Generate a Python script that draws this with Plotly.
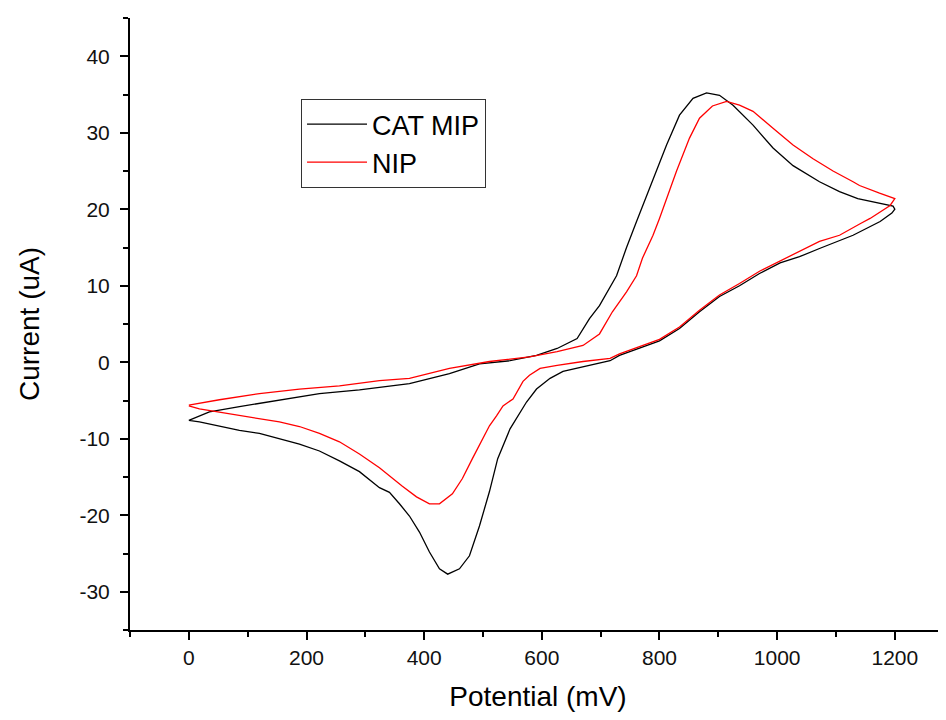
"""Cyclic voltammogram: CAT MIP vs NIP."""

import plotly.graph_objects as go

# CAT MIP loop: forward scan 0 -> 1200 mV then reverse back to 0
mip_potential = [
    0, 35, 86, 154, 222, 290, 320, 375, 443, 494, 546, 591, 626, 660, 681,
    698, 727, 744, 761, 789, 812, 834, 857, 880, 902, 925, 959, 993, 1027,
    1072, 1106, 1137, 1170, 1197,
    1200, 1195, 1175, 1141, 1129, 1073, 1038, 1005, 970, 936, 902, 868, 834,
    800, 766, 732, 716, 698, 670, 636, 614, 591, 574, 557, 546, 525, 511, 494,
    477, 460, 440, 426, 409, 392, 375, 358, 341, 324, 290, 256, 222, 188, 154,
    120, 86, 52, 18, 0,
]
mip_current = [
    -7.6, -6.5, -5.8, -5.0, -4.1, -3.6, -3.3, -2.8, -1.5, -0.2, 0.2, 0.9, 1.8, 3.1, 5.7,
    7.4, 11.3, 15.0, 18.4, 24.0, 28.4, 32.3, 34.5, 35.2, 34.9, 33.6, 31.0, 28.0, 25.7,
    23.6, 22.3, 21.4, 20.8, 20.4,
    20.0, 19.5, 18.4, 17.1, 16.6, 14.9, 13.8, 13.0, 11.6, 10.0, 8.6, 6.6, 4.4,
    2.8, 1.8, 0.9, 0.2, -0.1, -0.6, -1.2, -2.1, -3.5, -5.2, -7.4, -8.7, -12.6, -16.9, -21.4,
    -25.3, -27.0, -27.7, -27.0, -24.8, -22.2, -20.1, -18.5, -17.0, -16.4, -14.3, -12.9, -11.6, -10.7, -10.0,
    -9.3, -8.9, -8.3, -7.8, -7.6,
]

# NIP loop
nip_potential = [
    0, 52, 120, 188, 256, 324, 375, 443, 511, 579, 626, 670, 698, 720, 744,
    761, 771, 789, 800, 829, 851, 868, 890, 914, 936, 959, 993, 1027, 1061,
    1095, 1129, 1140, 1174, 1200,
    1192, 1158, 1141, 1106, 1072, 1038, 1005, 970, 936, 902, 868, 834, 800,
    766, 732, 716, 670, 626, 597, 579, 568, 551, 534, 523, 511, 482, 465, 448,
    426, 409, 387, 363, 341, 324, 290, 256, 222, 188, 154, 120, 86, 52, 18, 0,
]
nip_current = [
    -5.6, -4.9, -4.1, -3.5, -3.1, -2.4, -2.1, -0.8, 0.1, 0.7, 1.4, 2.2, 3.7, 6.6, 9.2,
    11.3, 13.6, 16.6, 18.8, 25.0, 29.3, 31.9, 33.5, 34.1, 33.6, 32.8, 30.6, 28.4, 26.6,
    25.0, 23.6, 23.1, 22.1, 21.4,
    20.5, 18.8, 18.1, 16.6, 15.8, 14.5, 13.3, 11.9, 10.3, 8.8, 6.8, 4.6, 3.0,
    2.0, 1.1, 0.5, 0.1, -0.4, -0.8, -1.7, -2.5, -4.8, -5.7, -7.0, -8.3, -12.6, -15.2, -17.2,
    -18.5, -18.5, -17.6, -16.2, -14.8, -13.8, -12.0, -10.4, -9.3, -8.4, -7.8, -7.4, -7.0, -6.5, -6.1, -5.7,
]

y_tickvals = [-30, -20, -10, 0, 10, 20, 30, 40]
y_ticktext = ["-30", "-20", "-10", "0", "10", "20", "30", "40"]

FONT = "Liberation Sans, Arial, sans-serif"

fig = go.Figure()
fig.add_trace(go.Scatter(
    x=mip_potential, y=mip_current,
    mode="lines", name="CAT MIP",
    line=dict(color="#000000", width=1.3),
))
fig.add_trace(go.Scatter(
    x=nip_potential, y=nip_current,
    mode="lines", name="NIP",
    line=dict(color="#ff0000", width=1.3),
))

axis_common = dict(
    showgrid=False, zeroline=False, automargin=False,
    showline=True, linecolor="black", linewidth=2,
    ticks="outside", ticklen=8, tickwidth=2, tickcolor="black",
    tickfont=dict(family=FONT, size=21, color="#111111"),
    mirror=False,
)

fig.update_xaxes(
    **axis_common,
    range=[-100, 1287], dtick=200, tick0=0,
    minor=dict(dtick=100, ticks="outside", ticklen=5, tickwidth=2, tickcolor="black"),
    title=dict(text="Potential (mV)", font=dict(family=FONT, size=28, color="black"), standoff=26),
)
fig.update_yaxes(
    **axis_common,
    range=[-35, 45],
    tickmode="array", tickvals=y_tickvals, ticktext=y_ticktext,
    minor=dict(dtick=5, tick0=0, ticks="outside", ticklen=5, tickwidth=2, tickcolor="black"),
    ticklabelstandoff=6,
    title=dict(text="Current (uA)", font=dict(family=FONT, size=28, color="black"), standoff=32),
)

# the page body adds an 8px offset, so the figure is sized to the remaining area
fig.update_layout(
    width=938, height=704,
    margin=dict(l=122, r=0, t=10, b=82),
    paper_bgcolor="white", plot_bgcolor="white",
    legend=dict(
        x=0.2096, y=0.8676, xanchor="left", yanchor="top",
        bordercolor="#333333", borderwidth=1, bgcolor="white",
        font=dict(family=FONT, size=27, color="black"),
        tracegroupgap=0, itemwidth=60,
    ),
)

fig.write_html("out.html")
